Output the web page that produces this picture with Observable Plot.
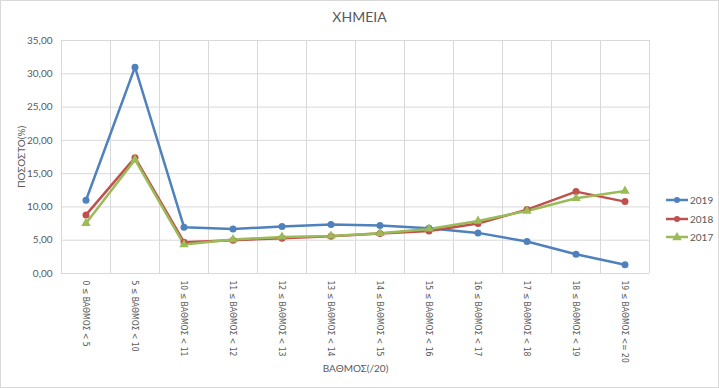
<!DOCTYPE html>
<html>
<head>
<meta charset="utf-8">
<script src="https://cdn.jsdelivr.net/npm/d3@7"></script>
<script src="https://cdn.jsdelivr.net/npm/@observablehq/plot@0.6"></script>
<style>
  html, body { margin: 0; padding: 0; background: #fff; }
  #wrap { position: relative; width: 719px; height: 388px; overflow: hidden; font-family: Lato, "Liberation Sans", sans-serif; }
  #frame { position: absolute; left: 0; top: 0; width: 719px; height: 388px; box-sizing: border-box; border: 1px solid #d9d9d9; pointer-events: none; }
  #title { position: absolute; left: 0; width: 719px; top: 8px; text-align: center; font-size: 14px; color: #595959; }
  #legend { position: absolute; left: 666px; top: 191px; font-size: 10px; color: #595959; }
  #legend .row { display: flex; align-items: center; height: 18.5px; }
  #legend svg { margin-right: 2px; }
  #chart { position: absolute; left: 0; top: 0; }
</style>
</head>
<body>
<div id="wrap">
  <div id="chart"></div>
  <div id="title">ΧΗΜΕΙΑ</div>
  <div id="legend"></div>
  <div id="frame"></div>
</div>
<script>
const categories = [
  "0 ≤ ΒΑΘΜΟΣ < 5", "5 ≤ ΒΑΘΜΟΣ < 10", "10 ≤ ΒΑΘΜΟΣ < 11", "11 ≤ ΒΑΘΜΟΣ < 12",
  "12 ≤ ΒΑΘΜΟΣ < 13", "13 ≤ ΒΑΘΜΟΣ < 14", "14 ≤ ΒΑΘΜΟΣ < 15", "15 ≤ ΒΑΘΜΟΣ < 16",
  "16 ≤ ΒΑΘΜΟΣ < 17", "17 ≤ ΒΑΘΜΟΣ < 18", "18 ≤ ΒΑΘΜΟΣ < 19", "19 ≤ ΒΑΘΜΟΣ <= 20"
];
const years = ["2019", "2018", "2017"];
const v2019 = [11.0, 31.0, 6.95, 6.7, 7.05, 7.35, 7.2, 6.8, 6.1, 4.8, 2.9, 1.3];
const v2018 = [8.8, 17.4, 4.7, 5.0, 5.3, 5.6, 6.0, 6.4, 7.5, 9.6, 12.3, 10.8];
const v2017 = [7.55, 17.1, 4.35, 5.1, 5.5, 5.65, 6.05, 6.7, 7.9, 9.4, 11.3, 12.4];
const yTicks = [0, 5, 10, 15, 20, 25, 30, 35];
const colors = ["#4F81BD", "#C0504D", "#9BBB59"];
const symbols = ["circle", "circle", "triangle"];

const series = [v2019, v2018, v2017];
const data = [];
years.forEach((y, k) => series[k].forEach((v, i) => data.push({year: y, i, value: v})));
const n = categories.length;
const boundaries = d3.range(n + 1).map(i => i - 0.5);
const narrow = "'Liberation Sans Narrow', 'DejaVu Sans Condensed', 'Liberation Sans', sans-serif";

const chart = Plot.plot({
  width: 719,
  height: 388,
  marginLeft: 61,
  marginRight: 70,
  marginTop: 40,
  marginBottom: 115,
  style: { fontFamily: "Lato, 'Liberation Sans', sans-serif", fontSize: "10px", color: "#595959", background: "transparent" },
  x: { domain: [-0.5, n - 0.5] },
  y: { domain: [0, 35] },
  color: { domain: years, range: colors },
  symbol: { domain: years, range: symbols },
  marks: [
    Plot.gridY(yTicks, { stroke: "#d9d9d9", strokeOpacity: 1 }),
    Plot.ruleX(boundaries, { stroke: "#d9d9d9", strokeOpacity: 1 }),
    Plot.axisY(yTicks, {
      tickFormat: d => d.toFixed(2).replace(".", ","),
      tickSize: 0,
      tickPadding: 9,
      fontSize: 10,
      label: "ΠΟΣΟΣΤΟ(%)",
      labelAnchor: "center",
      labelOffset: 44,
      labelArrow: "none"
    }),
    Plot.axisX(d3.range(n), {
      tickFormat: i => categories[i],
      tickRotate: 90,
      tickSize: 0,
      tickPadding: 7,
      fontSize: 8.5,
      fontFamily: narrow,
      label: null
    }),
    Plot.axisX({
      ticks: [],
      tickSize: 0,
      label: "ΒΑΘΜΟΣ(/20)",
      labelAnchor: "center",
      labelOffset: 98,
      labelArrow: "none"
    }),
    Plot.line(data, { x: "i", y: "value", z: "year", stroke: "year", strokeWidth: 2.5 }),
    Plot.dot(data, { x: "i", y: "value", fill: "year", symbol: "year", r: 3.5, stroke: "none" })
  ]
});
document.getElementById("chart").appendChild(chart);

const legend = document.getElementById("legend");
years.forEach((y, k) => {
  const row = document.createElement("div");
  row.className = "row";
  const marker = symbols[k] === "triangle"
    ? `<path d="${d3.symbol(d3.symbolTriangle, 40)()}" transform="translate(11,5.5)" fill="${colors[k]}"/>`
    : `<circle cx="11" cy="5" r="3" fill="${colors[k]}"/>`;
  row.innerHTML = `<svg width="22" height="10"><line x1="0" x2="22" y1="5" y2="5" stroke="${colors[k]}" stroke-width="2.5"/>${marker}</svg><span>${y}</span>`;
  legend.appendChild(row);
});
</script>
</body>
</html>
